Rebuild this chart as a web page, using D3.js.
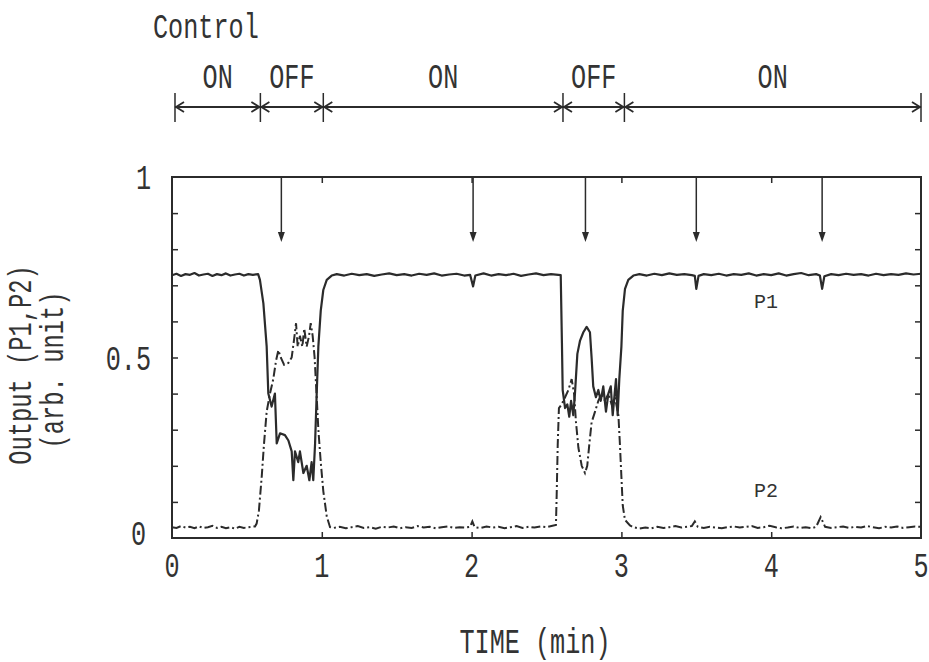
<!DOCTYPE html>
<meta charset="utf-8">
<head>
<script src="https://d3js.org/d3.v7.min.js"></script>
<style>
body { margin: 0; background: #fff; }
text { font-family: "Liberation Mono", "DejaVu Sans Mono", monospace; fill: #333; }
</style>
</head>
<body>
<script>

// ---- data ----
var xTicks = [0, 1, 2, 3, 4, 5];
var xInnerTicks = [1, 2, 3, 4];
var yTickLabels = [0, 0.5, 1];
var yInnerTicks = [0.1, 0.2, 0.3, 0.4, 0.5, 0.6, 0.7, 0.8, 0.9];

// control schedule (min)
var controlEdges = [0.02, 0.59, 1.01, 2.61, 3.02, 5.0];
var controlLabels = ["ON", "OFF", "ON", "OFF", "ON"];

// vertical marker arrows (min)
var arrowTimes = [0.73, 2.01, 2.76, 3.50, 4.34];

// P1 output [time, value]
var p1 = [
  [0.00, 0.728], [0.03, 0.732], [0.06, 0.726], [0.09, 0.731], [0.12, 0.729], [0.15, 0.734],
  [0.18, 0.727], [0.21, 0.730], [0.24, 0.732], [0.27, 0.726], [0.30, 0.731], [0.33, 0.728],
  [0.36, 0.733], [0.39, 0.727], [0.42, 0.730], [0.45, 0.732], [0.48, 0.727], [0.51, 0.731],
  [0.54, 0.729], [0.575, 0.731],
  [0.587, 0.715], [0.61, 0.65], [0.632, 0.53], [0.643, 0.40], [0.665, 0.364], [0.687, 0.40],
  [0.699, 0.262], [0.721, 0.29], [0.754, 0.285], [0.777, 0.27], [0.799, 0.24], [0.81, 0.16],
  [0.821, 0.24], [0.843, 0.21], [0.854, 0.24], [0.877, 0.18], [0.899, 0.20], [0.917, 0.16],
  [0.932, 0.21], [0.943, 0.16], [0.955, 0.26], [0.966, 0.40], [0.977, 0.53], [0.993, 0.63],
  [1.01, 0.687], [1.033, 0.715], [1.066, 0.727],
  [1.10, 0.731], [1.15, 0.727], [1.20, 0.732], [1.25, 0.728], [1.30, 0.731], [1.35, 0.726],
  [1.40, 0.730], [1.45, 0.733], [1.50, 0.728], [1.55, 0.731], [1.60, 0.727], [1.65, 0.732],
  [1.70, 0.729], [1.75, 0.733], [1.80, 0.727], [1.85, 0.730], [1.90, 0.732], [1.95, 0.727],
  [1.99, 0.729], [2.01, 0.697], [2.025, 0.727], [2.08, 0.733], [2.13, 0.727], [2.18, 0.731],
  [2.23, 0.728], [2.28, 0.732], [2.33, 0.726], [2.38, 0.730], [2.43, 0.733], [2.48, 0.728],
  [2.53, 0.731], [2.595, 0.728],
  [2.603, 0.54], [2.608, 0.41], [2.624, 0.36], [2.639, 0.37], [2.652, 0.336], [2.664, 0.38],
  [2.679, 0.34], [2.69, 0.40], [2.706, 0.51], [2.724, 0.547], [2.746, 0.57], [2.768, 0.585],
  [2.79, 0.57], [2.801, 0.50], [2.812, 0.42], [2.83, 0.39], [2.846, 0.41], [2.862, 0.38],
  [2.879, 0.42], [2.897, 0.35], [2.913, 0.40], [2.929, 0.42], [2.942, 0.34], [2.955, 0.40],
  [2.964, 0.44], [2.975, 0.34], [2.986, 0.44], [3.0, 0.53], [3.009, 0.63], [3.024, 0.69],
  [3.046, 0.715], [3.08, 0.727],
  [3.12, 0.731], [3.17, 0.727], [3.22, 0.732], [3.27, 0.728], [3.32, 0.733], [3.37, 0.729],
  [3.42, 0.731], [3.47, 0.728], [3.49, 0.726], [3.50, 0.690], [3.515, 0.726], [3.55, 0.731],
  [3.60, 0.728], [3.65, 0.732], [3.70, 0.727], [3.75, 0.731], [3.80, 0.729], [3.85, 0.733],
  [3.90, 0.727], [3.95, 0.731], [4.00, 0.728], [4.05, 0.733], [4.10, 0.727], [4.15, 0.731],
  [4.20, 0.734], [4.25, 0.728], [4.30, 0.731], [4.325, 0.727], [4.34, 0.690], [4.355, 0.725],
  [4.40, 0.731], [4.45, 0.728], [4.50, 0.732], [4.55, 0.729], [4.60, 0.731], [4.65, 0.727],
  [4.70, 0.732], [4.75, 0.728], [4.80, 0.731], [4.85, 0.729], [4.90, 0.733], [4.95, 0.730],
  [5.00, 0.732]
];

// P2 output [time, value]
var p2 = [
  [0.00, 0.030], [0.03, 0.028], [0.06, 0.033], [0.09, 0.029], [0.12, 0.031], [0.15, 0.027],
  [0.18, 0.032], [0.21, 0.028], [0.24, 0.030], [0.27, 0.034], [0.30, 0.028], [0.33, 0.031],
  [0.36, 0.027], [0.39, 0.030], [0.42, 0.026], [0.45, 0.031], [0.48, 0.028], [0.51, 0.030],
  [0.554, 0.032],
  [0.565, 0.04], [0.58, 0.075], [0.599, 0.17], [0.614, 0.26], [0.632, 0.35], [0.654, 0.40],
  [0.676, 0.44], [0.694, 0.49], [0.71, 0.52], [0.726, 0.50], [0.748, 0.48], [0.777, 0.485],
  [0.799, 0.50], [0.815, 0.55], [0.828, 0.595], [0.839, 0.53], [0.854, 0.56], [0.87, 0.53],
  [0.883, 0.58], [0.899, 0.53], [0.915, 0.56], [0.926, 0.595], [0.939, 0.56], [0.952, 0.50],
  [0.966, 0.39], [0.977, 0.30], [0.993, 0.21], [1.01, 0.13], [1.033, 0.06], [1.055, 0.03],
  [1.08, 0.028], [1.12, 0.031], [1.16, 0.027], [1.20, 0.030], [1.24, 0.033], [1.28, 0.028],
  [1.32, 0.030], [1.36, 0.026], [1.40, 0.031], [1.44, 0.029], [1.48, 0.032], [1.52, 0.027],
  [1.56, 0.030], [1.60, 0.028], [1.64, 0.033], [1.68, 0.029], [1.72, 0.031], [1.76, 0.027],
  [1.80, 0.030], [1.84, 0.032], [1.88, 0.028], [1.92, 0.030], [1.96, 0.029], [1.99, 0.031],
  [2.005, 0.046], [2.02, 0.030], [2.06, 0.028], [2.10, 0.032], [2.14, 0.029], [2.18, 0.031],
  [2.22, 0.027], [2.26, 0.030], [2.30, 0.033], [2.34, 0.028], [2.38, 0.031], [2.42, 0.029],
  [2.46, 0.032], [2.50, 0.030], [2.54, 0.034], [2.563, 0.036],
  [2.568, 0.12], [2.575, 0.26], [2.583, 0.36], [2.601, 0.37], [2.624, 0.39], [2.646, 0.41],
  [2.668, 0.44], [2.684, 0.40], [2.697, 0.32], [2.713, 0.25], [2.735, 0.20], [2.757, 0.18],
  [2.772, 0.20], [2.786, 0.26], [2.801, 0.32], [2.824, 0.35], [2.846, 0.38], [2.868, 0.40],
  [2.89, 0.38], [2.913, 0.40], [2.935, 0.37], [2.957, 0.39], [2.98, 0.34], [2.99, 0.26],
  [3.0, 0.17], [3.009, 0.09], [3.024, 0.05], [3.057, 0.035],
  [3.08, 0.030], [3.12, 0.026], [3.16, 0.029], [3.20, 0.027], [3.24, 0.031], [3.28, 0.028],
  [3.32, 0.030], [3.36, 0.033], [3.40, 0.029], [3.44, 0.031], [3.47, 0.033], [3.49, 0.046],
  [3.51, 0.031], [3.55, 0.028], [3.59, 0.031], [3.63, 0.029], [3.67, 0.027], [3.71, 0.030],
  [3.75, 0.032], [3.79, 0.029], [3.83, 0.031], [3.87, 0.033], [3.91, 0.028], [3.95, 0.030],
  [3.99, 0.034], [4.03, 0.030], [4.07, 0.027], [4.11, 0.029], [4.15, 0.032], [4.19, 0.028],
  [4.23, 0.030], [4.27, 0.027], [4.30, 0.031], [4.33, 0.058], [4.36, 0.031], [4.40, 0.028],
  [4.44, 0.030], [4.48, 0.032], [4.52, 0.028], [4.56, 0.031], [4.60, 0.029], [4.64, 0.033],
  [4.68, 0.030], [4.72, 0.027], [4.76, 0.031], [4.80, 0.029], [4.84, 0.032], [4.88, 0.028],
  [4.92, 0.030], [4.96, 0.032], [5.00, 0.031]
];

// ---- layout ----
var W = 929, H = 662;
var ink = "#2b2b2b";
var fs = 35, sx = 0.72;   // narrow plotter-style lettering

var x = d3.scaleLinear().domain([0, 5]).range([172, 921]);
var y = d3.scaleLinear().domain([0, 1]).range([538, 177]);

var svg = d3.select("body").append("svg")
    .attr("width", W)
    .attr("height", H);

// text with horizontal squeeze
function label(str, px, py, anchor, rot, size, squeeze) {
  var t = "translate(" + px + "," + py + ")";
  if (rot) t += " rotate(" + rot + ")";
  t += " scale(" + (squeeze || sx) + ",1)";
  return svg.append("text")
      .attr("transform", t)
      .attr("text-anchor", anchor)
      .style("font-size", (size || fs) + "px")
      .text(str);
}

// frame
svg.append("rect")
    .attr("x", x(0)).attr("y", y(1))
    .attr("width", x(5) - x(0)).attr("height", y(0) - y(1))
    .attr("fill", "none").attr("stroke", ink).attr("stroke-width", 2);

// inward ticks on all four sides
function tickStyle(g) {
  g.select(".domain").remove();
  g.selectAll("line").attr("stroke", ink).attr("stroke-width", 1.5);
}
svg.append("g").attr("transform", "translate(0," + y(0) + ")")
    .call(d3.axisBottom(x).tickValues(xInnerTicks).tickSize(-6).tickFormat(""))
    .call(tickStyle);
svg.append("g").attr("transform", "translate(0," + y(1) + ")")
    .call(d3.axisTop(x).tickValues(xInnerTicks).tickSize(-6).tickFormat(""))
    .call(tickStyle);
svg.append("g").attr("transform", "translate(" + x(0) + ",0)")
    .call(d3.axisLeft(y).tickValues(yInnerTicks).tickSize(-6).tickFormat(""))
    .call(tickStyle);
svg.append("g").attr("transform", "translate(" + x(5) + ",0)")
    .call(d3.axisRight(y).tickValues(yInnerTicks).tickSize(-6).tickFormat(""))
    .call(tickStyle);

// tick labels
xTicks.forEach(function(v) { label(String(v), x(v), 577, "middle"); });
yTickLabels.forEach(function(v) {
  label(v === 0.5 ? "0.5" : String(v), v === 0 ? 146 : 151, y(v) + 12 - (v === 0 ? 5 : 0), "end");
});

// axis titles
label("TIME (min)", 535, 653, "middle");
label("Output (P1,P2)", 31, 365, "middle", -90, 33);
label("(arb. unit)", 63, 370, "middle", -90, 33);

// series
var line = d3.line()
    .x(function(d) { return x(d[0]); })
    .y(function(d) { return y(d[1]); });

svg.append("path").datum(p2)
    .attr("d", line)
    .attr("fill", "none").attr("stroke", ink).attr("stroke-width", 2)
    .attr("stroke-dasharray", "9,3,2,3");

svg.append("path").datum(p1)
    .attr("d", line)
    .attr("fill", "none").attr("stroke", ink).attr("stroke-width", 2.2)
    .attr("stroke-linejoin", "round");

label("P1", 754, 308, "start", 0, 20, 1).style("font-family", "'Liberation Mono', monospace");
label("P2", 754, 497, "start", 0, 20, 1).style("font-family", "'Liberation Mono', monospace");

// marker arrows
var tipY = y(0.82);
arrowTimes.forEach(function(t) {
  svg.append("line")
      .attr("x1", x(t)).attr("x2", x(t))
      .attr("y1", y(1)).attr("y2", tipY - 4)
      .attr("stroke", ink).attr("stroke-width", 1.5);
  svg.append("path")
      .attr("d", "M" + (x(t) - 3.5) + "," + (tipY - 10) + "L" + (x(t) + 3.5) + "," + (tipY - 10) +
                 "L" + x(t) + "," + tipY + "Z")
      .attr("fill", ink);
});

// control schedule bar
var barY = 107;
label("Control", 153, 38, "start");

svg.append("line")
    .attr("x1", x(controlEdges[0])).attr("x2", x(controlEdges[controlEdges.length - 1]))
    .attr("y1", barY).attr("y2", barY)
    .attr("stroke", ink).attr("stroke-width", 2.2);

controlEdges.forEach(function(e) {
  svg.append("line")
      .attr("x1", x(e)).attr("x2", x(e))
      .attr("y1", 93).attr("y2", 122)
      .attr("stroke", ink).attr("stroke-width", 1.5);
});

controlLabels.forEach(function(s, i) {
  var a = x(controlEdges[i]), b = x(controlEdges[i + 1]);
  // open arrowheads pointing out to both bars
  svg.append("path")
      .attr("d", "M" + (a + 9) + "," + (barY - 5) + "L" + (a + 1) + "," + barY + "L" + (a + 9) + "," + (barY + 5))
      .attr("fill", "none").attr("stroke", ink).attr("stroke-width", 1.8);
  svg.append("path")
      .attr("d", "M" + (b - 9) + "," + (barY - 5) + "L" + (b - 1) + "," + barY + "L" + (b - 9) + "," + (barY + 5))
      .attr("fill", "none").attr("stroke", ink).attr("stroke-width", 1.8);
  label(s, (a + b) / 2, 88, "middle");
});

</script>
</body>
